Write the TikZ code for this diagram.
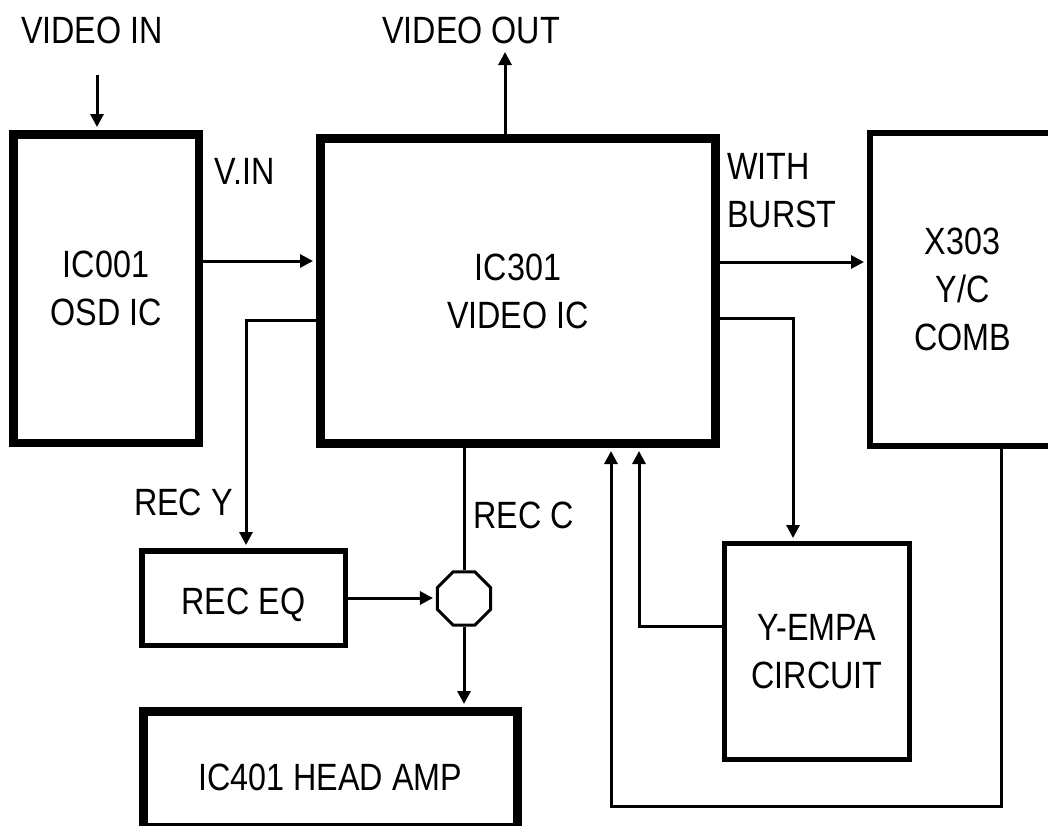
\documentclass[tikz,border=0pt]{standalone}
\usepackage{fontspec}
\setmainfont{Liberation Sans}[FakeStretch=0.85]
\usetikzlibrary{arrows.meta,shapes.geometric}
\tikzset{
  blk/.style={draw, inner sep=0pt, align=center, font=\fontsize{38}{48}\selectfont},
  lbl/.style={inner sep=0pt, align=left, font=\fontsize{38}{48}\selectfont},
  arr/.style={line width=3pt, -{Triangle[length=13pt,width=13pt]}, shorten >=3pt},
  wire/.style={line width=3pt}
}
\begin{document}
\begin{tikzpicture}[x=1pt,y=-1pt]
	\useasboundingbox (0,0) rectangle (1048,825);
	\node[blk, line width=8.5pt, minimum width=185.5pt, minimum height=308.5pt] (ic001) at (106,288.5) {IC001\\OSD IC};
	\node[blk, line width=9pt, minimum width=395pt, minimum height=305pt] (ic301) at (518,291) {IC301\\VIDEO IC};
	\node[blk, line width=6pt, minimum width=185pt, minimum height=313pt] (x303) at (962.5,289.5) {X303\\Y/C\\COMB};
	\node[blk, line width=5.5pt, minimum width=203.5pt, minimum height=94.5pt, text height=40pt] (receq) at (243.5,598) {REC EQ};
	\node[draw, regular polygon, regular polygon sides=8, minimum size=57.4pt, inner sep=0pt, line width=3pt] (oct) at (464,598.5) {};
	\node[blk, line width=9pt, minimum width=373.5pt, minimum height=116pt, text height=43pt] (ic401) at (330.25,769.5) {IC401 HEAD AMP};
	\node[blk, line width=5pt, minimum width=185pt, minimum height=216pt] (yempa) at (817,651.5) {Y-EMPA\\CIRCUIT};
	% labels
	\node[lbl] (vin) at (92,30) {VIDEO IN};
	\node[lbl] (vout) at (471,30) {VIDEO OUT};
	\node[lbl] (vinlbl) at (244.5,171.5) {V.IN};
	\node[lbl, anchor=west] (burst) at (727,191) {WITH\\BURST};
	\node[lbl, anchor=east] (recy) at (233,502) {REC Y};
	\node[lbl, anchor=west] (recc) at (473,515) {REC C};
	\coordinate (vinTail) at (97,75);
	\coordinate (voutTip) at (505,49);
	\coordinate (loopCorner) at (1001,806);
	% signal paths
	\draw[arr] (vinTail) -- (ic001.north -| vinTail);
	\draw[arr] (ic001.east |- 0,261) -- (ic301.west |- 0,261);
	\draw[arr] (ic301.north -| voutTip) -- (voutTip);
	\draw[arr] (ic301.east |- 0,262) -- (x303.west |- 0,262);
	\draw[arr] (ic301.west |- 0,320) -| (receq.north -| 246,0);
	\draw[wire] (ic301.south -| oct.north) -- (oct.north);
	\draw[arr] (receq.east) -- (receq.east -| oct.west);
	\draw[arr] (oct.south) -- (oct.south |- ic401.north);
	\draw[arr] (ic301.east |- 0,318) -| (yempa.north -| 793,0);
	\draw[arr] (yempa.west |- 0,626) -| (ic301.south -| 639,0);
	\draw[arr] (x303.south -| loopCorner) -- (loopCorner) -| (ic301.south -| 611,0);
\end{tikzpicture}
\end{document}
